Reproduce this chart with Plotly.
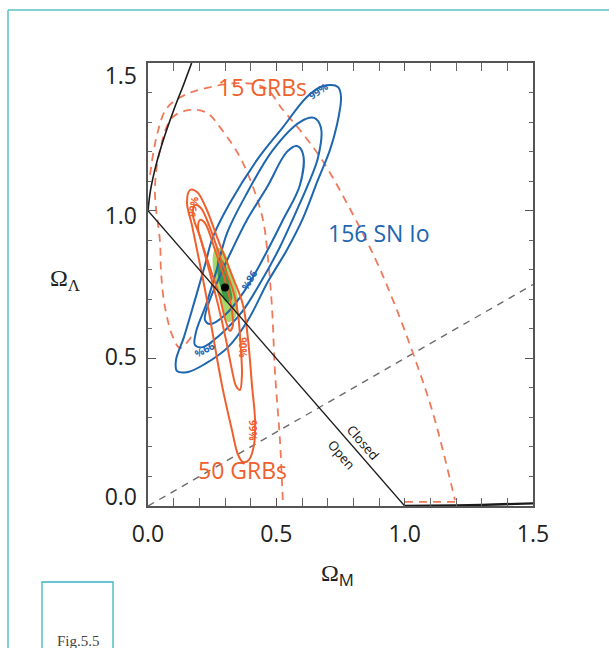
import plotly.graph_objects as go

# ---- data (Omega_M, Omega_Lambda) ----
flat_m = [0.0, 1.0]
flat_l = [1.0, 0.0]

bang_m = [0.0, 0.01, 0.03, 0.06, 0.10, 0.14, 0.17]
bang_l = [1.0, 1.07, 1.15, 1.24, 1.34, 1.43, 1.50]

recoll_m = [1.0, 1.2, 1.35, 1.5]
recoll_l = [0.0, 0.002, 0.005, 0.009]

accel_m = [0.0, 1.5]
accel_l = [0.0, 0.75]

sn_outer_m = [0.740, 0.752, 0.736, 0.709, 0.662, 0.604, 0.541, 0.467, 0.390, 0.312, 0.222, 0.156,
              0.113, 0.109, 0.140, 0.183, 0.222, 0.253, 0.319, 0.425, 0.526, 0.619, 0.682, 0.740]
sn_outer_l = [1.419, 1.385, 1.290, 1.206, 1.104, 0.975, 0.867, 0.759, 0.630, 0.538, 0.481, 0.454,
              0.457, 0.494, 0.572, 0.698, 0.816, 0.911, 1.026, 1.172, 1.283, 1.385, 1.422, 1.419]
sn_mid_m = [0.647, 0.674, 0.662, 0.623, 0.577, 0.514, 0.444, 0.366, 0.280, 0.214, 0.183, 0.187,
            0.226, 0.265, 0.308, 0.386, 0.487, 0.592, 0.647]
sn_mid_l = [1.314, 1.280, 1.178, 1.087, 0.996, 0.877, 0.765, 0.657, 0.579, 0.538, 0.545, 0.589,
            0.681, 0.792, 0.924, 1.060, 1.206, 1.300, 1.314]
sn_in_m = [0.580, 0.604, 0.592, 0.526, 0.456, 0.378, 0.300, 0.242, 0.222, 0.234, 0.273, 0.327,
           0.386, 0.464, 0.541, 0.580]
sn_in_l = [1.219, 1.192, 1.087, 0.969, 0.850, 0.731, 0.647, 0.616, 0.630, 0.681, 0.765, 0.867,
           0.969, 1.080, 1.199, 1.219]

g50_outer_m = [0.164, 0.191, 0.226, 0.273, 0.327, 0.370, 0.390, 0.405, 0.417, 0.413, 0.393, 0.370,
               0.351, 0.327, 0.288, 0.253, 0.226, 0.199, 0.171, 0.152, 0.164]
g50_outer_l = [1.070, 1.063, 1.009, 0.901, 0.782, 0.681, 0.562, 0.410, 0.291, 0.207, 0.156, 0.149,
               0.173, 0.257, 0.410, 0.579, 0.715, 0.833, 0.952, 1.026, 1.070]
g50_mid_m = [0.183, 0.206, 0.242, 0.288, 0.331, 0.351, 0.362, 0.366, 0.358, 0.343, 0.327, 0.304,
             0.273, 0.238, 0.203, 0.175, 0.183]
g50_mid_l = [1.019, 1.009, 0.941, 0.826, 0.731, 0.647, 0.528, 0.444, 0.393, 0.406, 0.461, 0.562,
             0.681, 0.799, 0.911, 0.985, 1.019]
g50_in_m = [0.203, 0.222, 0.261, 0.300, 0.323, 0.331, 0.319, 0.304, 0.277, 0.242, 0.210, 0.195, 0.203]
g50_in_l = [0.969, 0.958, 0.867, 0.765, 0.681, 0.613, 0.593, 0.623, 0.715, 0.806, 0.891, 0.941, 0.969]

g15_outer_m = [0.008, 0.035, 0.074, 0.144, 0.230, 0.358, 0.456, 0.526, 0.592, 0.678, 0.779, 0.884,
               0.954, 1.032, 1.110, 1.196]
g15_outer_l = [1.121, 1.256, 1.348, 1.392, 1.416, 1.432, 1.416, 1.341, 1.273, 1.172, 1.019, 0.840,
               0.698, 0.518, 0.315, 0.020]
g15_base_m = [1.196, 0.993]
g15_base_l = [0.014, 0.014]
g15_in_m = [0.168, 0.125, 0.097, 0.066, 0.051, 0.047, 0.027, 0.047, 0.093, 0.164, 0.230, 0.280,
            0.358, 0.409, 0.448, 0.467, 0.483, 0.495, 0.514, 0.526]
g15_in_l = [0.572, 0.535, 0.572, 0.674, 0.789, 0.891, 1.070, 1.206, 1.314, 1.341, 1.331, 1.283,
            1.182, 1.080, 0.969, 0.843, 0.674, 0.450, 0.224, 0.0]

joint_light_m = [0.265, 0.292, 0.327, 0.351, 0.339, 0.312, 0.280, 0.257, 0.253, 0.265]
joint_light_l = [0.874, 0.867, 0.782, 0.698, 0.637, 0.623, 0.698, 0.782, 0.850, 0.874]
joint_dark_m = [0.273, 0.296, 0.319, 0.327, 0.304, 0.280, 0.269, 0.273]
joint_dark_l = [0.840, 0.826, 0.748, 0.698, 0.691, 0.748, 0.806, 0.840]

best_m = [0.30]
best_l = [0.74]

tick_vals = [0.0, 0.5, 1.0, 1.5]
tick_text = ["0.0", "0.5", "1.0", "1.5"]

ORANGE = "#f0602c"
ORANGE_D = "#ef7a5a"
BLUE = "#1d66b0"
SANS = "Open Sans, sans-serif"
SERIF = "Liberation Serif, serif"

fig = go.Figure()

def line(xs, ys, color, width=2.0, dash=None, shape="spline", fill=None, fillcolor=None):
    fig.add_trace(go.Scatter(
        x=xs, y=ys, mode="lines", hoverinfo="skip", showlegend=False,
        fill=fill, fillcolor=fillcolor,
        line=dict(color=color, width=width, dash=dash, shape=shape, smoothing=1.0)))

line(joint_light_m, joint_light_l, "rgba(0,0,0,0)", 0, fill="toself", fillcolor="#a9d66c")
line(joint_dark_m, joint_dark_l, "rgba(0,0,0,0)", 0, fill="toself", fillcolor="#3a9c48")

line(accel_m, accel_l, "#6b6b6b", 1.4, dash="7px,6px", shape="linear")
line(g15_outer_m, g15_outer_l, ORANGE_D, 1.8, dash="8px,6px")
line(g15_base_m, g15_base_l, ORANGE_D, 1.8, dash="8px,6px", shape="linear")
line(g15_in_m, g15_in_l, ORANGE_D, 1.8, dash="8px,6px")

for xs, ys in [(sn_outer_m, sn_outer_l), (sn_mid_m, sn_mid_l), (sn_in_m, sn_in_l)]:
    line(xs, ys, BLUE, 2.0)
for xs, ys in [(g50_outer_m, g50_outer_l), (g50_mid_m, g50_mid_l), (g50_in_m, g50_in_l)]:
    line(xs, ys, ORANGE, 2.0)

line(flat_m, flat_l, "#1a1a1a", 1.3, shape="linear")
line(bang_m, bang_l, "#1a1a1a", 1.6)
line(recoll_m, recoll_l, "#1a1a1a", 2.4)

fig.add_trace(go.Scatter(x=best_m, y=best_l, mode="markers", hoverinfo="skip", showlegend=False,
                         marker=dict(color="black", size=8)))

# tick label axis (labels sit slightly inside the frame)
fig.add_trace(go.Scatter(x=[None], y=[None], yaxis="y2", showlegend=False, hoverinfo="skip"))

ann = []
def text(x, y, s, color, size, angle=0, font=SANS):
    ann.append(dict(x=x, y=y, xref="x", yref="y", text=s, showarrow=False, textangle=angle,
                    font=dict(color=color, size=size, family=font)))

text(0.448, 1.418, "15 GRBs", ORANGE, 23)
text(0.899, 0.924, "156 SN Io", BLUE, 23)
text(0.370, 0.122, "50 GRBs", ORANGE, 23)
text(0.841, 0.215, "Closed", "#111", 13, 49)
text(0.752, 0.175, "Open", "#111", 13, 49)
text(0.662, 1.405, "<b>99%</b>", BLUE, 10, -35)
text(0.222, 0.528, "<b>99%</b>", BLUE, 10, 152)
text(0.397, 0.765, "<b>98%</b>", BLUE, 10, 120)
text(0.175, 1.012, "<b>99%</b>", ORANGE, 10, -80)
text(0.370, 0.538, "<b>90%</b>", ORANGE, 10, 90)
text(0.409, 0.257, "<b>99%</b>", ORANGE, 10, 90)

def paper_text(x, y, s, size, color="#222"):
    ann.append(dict(x=x, y=y, xref="paper", yref="paper", showarrow=False, text=s,
                    xanchor="center", yanchor="middle",
                    font=dict(family=SERIF, size=size, color=color)))

paper_text(-0.2156, 0.51, "Ω<sub>Λ</sub>", 24)
paper_text(0.492, -0.156, "Ω<sub><span style='font-family:Open Sans'>M</span></sub>", 24)
paper_text(-0.181, -0.3047, "Fig.5.5", 15, "#444")

TEAL = "#5cc0c9"
shapes = [
    dict(type="line", xref="paper", yref="paper", x0=-0.3636, x1=1.2, y0=1.1196, y1=1.1196,
         line=dict(color=TEAL, width=1.5)),
    dict(type="line", xref="paper", yref="paper", x0=-0.3636, x1=-0.3636, y0=1.1196, y1=-0.33,
         line=dict(color=TEAL, width=1.5)),
    dict(type="rect", xref="paper", yref="paper", x0=-0.2753, x1=-0.0909, y0=-0.1716, y1=-0.34,
         line=dict(color="#3ab4bf", width=1.3)),
]

axis_common = dict(showgrid=False, zeroline=False, showline=True, mirror="allticks",
                   linecolor="#555", linewidth=1.5, ticks="inside", ticklen=8, tickwidth=1,
                   tickcolor="#555",
                   minor=dict(ticks="inside", ticklen=4, dtick=0.1, tickcolor="#666", tickwidth=1))

fig.update_layout(
    width=609, height=648, plot_bgcolor="white", paper_bgcolor="white",
    margin=dict(l=148, r=76, t=63, b=142),
    xaxis=dict(range=[0, 1.5], tickvals=tick_vals, ticktext=tick_text, ticklabelstandoff=7,
               tickfont=dict(family=SANS, size=23, color="#222"), **axis_common),
    yaxis=dict(range=[0, 1.5], tickvals=tick_vals, showticklabels=False, **axis_common),
    yaxis2=dict(range=[-0.032, 1.546], overlaying="y", side="left", anchor="x",
                tickvals=tick_vals, ticktext=tick_text, showline=False, showgrid=False,
                zeroline=False, ticks="", ticklabelstandoff=10,
                tickfont=dict(family=SANS, size=23, color="#222")),
    annotations=ann, shapes=shapes,
)

fig.write_html("out.html")
